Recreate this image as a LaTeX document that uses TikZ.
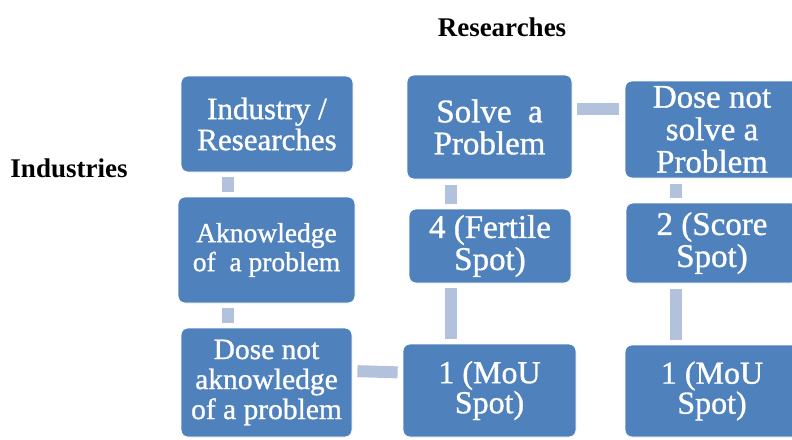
\documentclass[tikz,border=0pt]{standalone}
\usepackage{fontspec}
\setmainfont{Liberation Serif}[FakeBold=1]
\newfontfamily\titlefont{Liberation Serif}
\usepackage{tikz}

\definecolor{boxblue}{RGB}{79,129,189}
\definecolor{linkblue}{RGB}{178,193,220}
\tikzset{
  box/.style={rectangle, rounded corners=7pt, fill=boxblue, draw=white, line width=0.8pt,
    text=white, align=center, inner sep=2pt},
  link/.style={draw=linkblue, line width=12pt, shorten <=5pt, shorten >=5pt},
  title/.style={font=\titlefont\bfseries\fontsize{27}{30}\selectfont}
}

\begin{document}
\begin{tikzpicture}[x=1pt,y=-1pt]
\clip (0,0) rectangle (792,439);
\node[title] (res) at (502,27) {Researches};
\node[title] (ind) at (69,168) {Industries};
% left column
\node[box, minimum width=172pt, minimum height=96pt, font=\fontsize{31}{31}\selectfont] (indres) at (267,124) {Industry /\\Researches};
\node[box, minimum width=177pt, minimum height=106pt, font=\fontsize{27.5}{29}\selectfont] (ackn) at (266.5,250) {Aknowledge\\of\ \ a problem};
\node[box, minimum width=171pt, minimum height=109pt, font=\fontsize{29.5}{30}\selectfont] (notack) at (266.5,382.5) {Dose not\\aknowledge\\of a problem};
% middle column
\node[box, minimum width=165pt, minimum height=104pt, font=\fontsize{33}{32}\selectfont] (solve) at (489.5,127) {Solve\ \ a\\Problem};
\node[box, minimum width=162pt, minimum height=74pt, font=\fontsize{33}{32}\selectfont] (fertile) at (490,246) {4 (Fertile\\Spot)};
\node[box, minimum width=173pt, minimum height=93pt, font=\fontsize{32}{30}\selectfont] (mou1) at (489.5,390.5) {1 (MoU\\Spot)};
% right column
\node[box, minimum width=174pt, minimum height=97pt, font=\fontsize{33}{32.5}\selectfont] (notsolve) at (712,129.5) {Dose not\\solve a\\Problem};
\node[box, minimum width=172pt, minimum height=80pt, font=\fontsize{33}{32}\selectfont] (score) at (712,243) {2 (Score\\Spot)};
\node[box, minimum width=174pt, minimum height=92pt, font=\fontsize{32}{30}\selectfont] (mou2) at (712,391) {1 (MoU\\Spot)};
% links
\draw[link] ([xshift=-39pt]indres.south) -- ([xshift=-38.5pt]ackn.north);
\draw[link] ([xshift=-38.5pt]ackn.south) -- ([xshift=-38.5pt]notack.north);
\draw[link] ([yshift=11.5pt]notack.east) -- ([yshift=18pt]mou1.west);
\draw[link] ([xshift=-38.5pt]mou1.north) -- ([xshift=-39pt]fertile.south);
\draw[link, shorten >=6pt] ([xshift=-39pt]fertile.north) -- ([xshift=-38.5pt]solve.south);
\draw[link, shorten >=6pt] ([yshift=18.5pt]solve.east) -- ([yshift=21pt]notsolve.west);
\draw[link, shorten <=6pt] ([xshift=-36.5pt]notsolve.south) -- ([xshift=-36.5pt]score.north);
\draw[link, shorten <=6pt] ([xshift=-36.5pt]score.south) -- ([xshift=-36.5pt]mou2.north);
\end{tikzpicture}
\end{document}
